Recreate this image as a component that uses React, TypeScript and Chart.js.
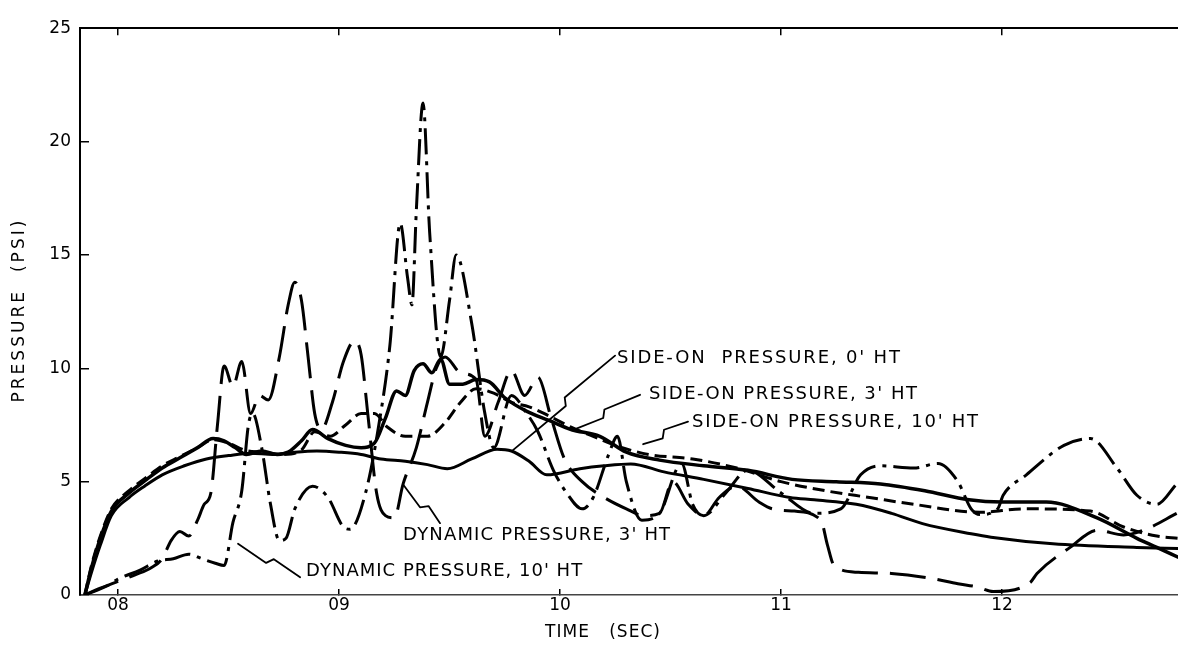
import React, { useEffect, useRef } from "react";
import { Chart, registerables } from "chart.js";

Chart.register(...registerables);

const FONT = '"DejaVu Sans", "Liberation Sans", sans-serif';

// ---------- axes ----------
const X_MIN = 0.7828;
const X_MAX = 1.2796;
const X_TICKS = [0.8, 0.9, 1.0, 1.1, 1.2];
const X_TICK_LABELS = ["08", "09", "10", "11", "12"];
const Y_TICKS = [0, 5, 10, 15, 20, 25];
const Y_TICK_LABELS = ["0", "5", "10", "15", "20", "25"];
const X_TITLE = "TIME   (SEC)";
const Y_TITLE = "PRESSURE  (PSI)";

// ---------- series (time in sec, pressure in psi) ----------
const SIDE_ON_0FT_T = [0.785, 0.788, 0.792, 0.797, 0.805, 0.812, 0.82, 0.83, 0.84, 0.85, 0.86, 0.87, 0.88, 0.89, 0.9, 0.91, 0.919, 0.93, 0.94, 0.949, 0.96, 0.9715, 0.978, 0.986, 0.994, 1.009, 1.02, 1.032, 1.047, 1.065, 1.085, 1.104, 1.115, 1.134, 1.15, 1.164, 1.186, 1.195, 1.223, 1.261, 1.28];
const SIDE_ON_0FT_P = [0, 1.0, 2.2, 3.5, 4.3, 4.8, 5.3, 5.7, 6.0, 6.15, 6.25, 6.2, 6.3, 6.35, 6.3, 6.2, 6.0, 5.9, 5.75, 5.57, 6.0, 6.43, 6.35, 5.9, 5.3, 5.57, 5.7, 5.78, 5.43, 5.1, 4.7, 4.3, 4.2, 4.0, 3.6, 3.15, 2.7, 2.55, 2.26, 2.1, 2.05];

const SIDE_ON_3FT_T = [0.785, 0.788, 0.792, 0.797, 0.805, 0.813, 0.82, 0.828, 0.836, 0.843, 0.85, 0.857, 0.865, 0.875, 0.883, 0.889, 0.896, 0.903, 0.91, 0.916, 0.922, 0.93, 0.94, 0.948, 0.955, 0.962, 0.97, 0.978, 0.986, 0.995, 1.005, 1.015, 1.025, 1.04, 1.06, 1.08, 1.1, 1.12, 1.14, 1.16, 1.19, 1.21, 1.24, 1.255, 1.27, 1.28];
const SIDE_ON_3FT_P = [0, 1.3, 2.6, 3.8, 4.6, 5.2, 5.7, 6.1, 6.5, 6.85, 6.7, 6.4, 6.3, 6.2, 6.4, 7.2, 7.0, 7.5, 8.0, 8.0, 7.4, 7.0, 7.0, 7.6, 8.5, 9.1, 8.9, 8.5, 8.3, 7.9, 7.4, 7.0, 6.6, 6.2, 6.0, 5.6, 5.0, 4.6, 4.3, 4.0, 3.65, 3.8, 3.7, 3.0, 2.6, 2.5];

const SIDE_ON_10FT_T = [0.785, 0.788, 0.792, 0.797, 0.805, 0.813, 0.82, 0.828, 0.836, 0.843, 0.848, 0.853, 0.858, 0.865, 0.872, 0.877, 0.883, 0.888, 0.895, 0.903, 0.91, 0.916, 0.921, 0.926, 0.93, 0.934, 0.938, 0.942, 0.946, 0.95, 0.956, 0.962, 0.968, 0.975, 0.985, 0.995, 1.005, 1.018, 1.03, 1.045, 1.065, 1.085, 1.105, 1.125, 1.145, 1.165, 1.185, 1.2, 1.22, 1.243, 1.261, 1.27, 1.28];
const SIDE_ON_10FT_P = [0, 1.2, 2.5, 3.7, 4.5, 5.1, 5.6, 6.05, 6.5, 6.9, 6.8, 6.5, 6.2, 6.35, 6.2, 6.3, 6.8, 7.3, 6.9, 6.6, 6.5, 6.7, 7.8, 9.0, 8.8, 9.9, 10.2, 9.8, 10.4, 9.3, 9.3, 9.5, 9.4, 8.7, 8.1, 7.7, 7.3, 7.0, 6.3, 5.95, 5.7, 5.5, 5.1, 5.0, 4.9, 4.6, 4.2, 4.1, 4.1, 3.4, 2.5, 2.1, 1.65];

const DYNAMIC_3FT_T = [0.785, 0.792, 0.8, 0.808, 0.815, 0.82, 0.824, 0.828, 0.832, 0.836, 0.839, 0.842, 0.845, 0.848, 0.852, 0.856, 0.86, 0.864, 0.868, 0.873, 0.877, 0.88, 0.883, 0.886, 0.889, 0.892, 0.897, 0.902, 0.907, 0.91, 0.913, 0.917, 0.921, 0.925, 0.929, 0.935, 0.94, 0.944, 0.948, 0.955, 0.962, 0.966, 0.972, 0.978, 0.984, 0.99, 0.996, 1.002, 1.01, 1.02, 1.03, 1.038, 1.045, 1.051, 1.058, 1.065, 1.072, 1.08, 1.09, 1.096, 1.106, 1.118, 1.121, 1.124, 1.135, 1.15, 1.167, 1.18, 1.189, 1.196, 1.2127, 1.2158, 1.2308, 1.243, 1.255, 1.265, 1.279];
const DYNAMIC_3FT_P = [0, 0.3, 0.6, 0.9, 1.2, 1.6, 2.4, 2.8, 2.6, 3.3, 4.0, 4.5, 7.5, 10.1, 9.2, 10.3, 8.0, 8.8, 8.6, 10.5, 12.8, 13.8, 13.0, 10.5, 8.0, 7.3, 8.5, 10.3, 11.2, 10.6, 8.0, 4.5, 3.5, 3.4, 4.9, 6.5, 8.5, 10.0, 10.5, 9.8, 9.5, 7.0, 8.5, 9.9, 8.8, 9.6, 7.8, 6.0, 5.0, 4.3, 3.8, 3.5, 3.6, 5.0, 4.0, 3.5, 4.3, 4.8, 4.1, 3.8, 3.7, 3.3, 2.2, 1.3, 1.0, 0.95, 0.75, 0.5, 0.35, 0.15, 0.55, 0.95, 2.1, 2.85, 2.65, 2.9, 3.6];

const DYNAMIC_10FT_T = [0.785, 0.795, 0.8, 0.81, 0.818, 0.825, 0.832, 0.838, 0.844, 0.848, 0.852, 0.856, 0.859, 0.861, 0.865, 0.869, 0.873, 0.876, 0.88, 0.888, 0.895, 0.902, 0.905, 0.912, 0.918, 0.923, 0.9277, 0.931, 0.933, 0.935, 0.938, 0.941, 0.946, 0.95, 0.953, 0.96, 0.966, 0.97, 0.978, 0.985, 0.99, 0.997, 1.003, 1.01, 1.015, 1.022, 1.026, 1.03, 1.037, 1.045, 1.055, 1.06, 1.065, 1.075, 1.085, 1.1, 1.115, 1.127, 1.136, 1.145, 1.16, 1.171, 1.18, 1.186, 1.19, 1.198, 1.2005, 1.211, 1.228, 1.24, 1.252, 1.261, 1.27, 1.279];
const DYNAMIC_10FT_P = [0, 0.4, 0.7, 1.1, 1.5, 1.6, 1.8, 1.6, 1.4, 1.3, 3.2, 4.6, 7.5, 8.0, 6.5, 4.0, 2.4, 2.5, 3.8, 4.8, 4.3, 3.0, 2.9, 4.5, 7.5, 11.0, 16.4, 14.0, 12.8, 17.0, 21.7, 16.0, 10.5, 13.0, 15.0, 12.0, 8.0, 6.5, 8.8, 8.0, 7.2, 5.5, 4.5, 3.8, 4.3, 6.2, 7.0, 5.0, 3.3, 3.6, 5.8, 4.0, 3.5, 4.5, 5.5, 4.5, 3.6, 3.8, 5.3, 5.7, 5.6, 5.8, 5.0, 3.8, 3.55, 3.8, 4.4, 5.3, 6.6, 6.9, 5.6, 4.4, 4.0, 4.9];

// ---------- annotation text ----------
const NOTE_TEXTS = [
  "SIDE-ON  PRESSURE, 0' HT",
  "SIDE-ON PRESSURE, 3' HT",
  "SIDE-ON PRESSURE, 10' HT",
  "DYNAMIC PRESSURE, 3' HT",
  "DYNAMIC PRESSURE, 10' HT",
];

// layout of the notes, in data units: [tLeft, tRight, p]
const NOTE_BOXES = [
  [1.0258, 1.1538, 10.43],
  [1.0403, 1.1615, 8.83],
  [1.0597, 1.1891, 7.61],
  [0.929, 1.0498, 2.61],
  [0.8851, 1.01, 1.04],
];
// leader lines: [tFrom, pFrom, tTo, pTo, zigFraction]
const NOTE_LEADERS = [
  [1.0249, 10.56, 0.9787, 6.39, 0.47],
  [1.0362, 8.83, 1.0054, 7.26, 0.5],
  [1.0579, 7.65, 1.0376, 6.65, 0.5],
  [0.9457, 3.17, 0.929, 4.87, 0.38],
  [0.8824, 0.78, 0.8543, 2.26, 0.45],
];
const X_TITLE_SPAN = [0.9932, 1.0452];

function spacedText(ctx: CanvasRenderingContext2D, text: string, x0: number, x1: number, cy: number) {
  const c: any = ctx;
  const hasLS = "letterSpacing" in c;
  if (hasLS) c.letterSpacing = "0px";
  const w = ctx.measureText(text).width;
  const n = text.length;
  const sp = n > 1 ? (x1 - x0 - w) / (n - 1) : 0;
  if (hasLS) c.letterSpacing = `${sp}px`;
  ctx.textAlign = "left";
  ctx.fillText(text, x0, cy);
  if (hasLS) c.letterSpacing = "0px";
}

function leader(ctx: CanvasRenderingContext2D, ax: number, ay: number, bx: number, by: number, f: number) {
  const dx = bx - ax;
  const dy = by - ay;
  const L = Math.hypot(dx, dy) || 1;
  const ux = dx / L;
  const uy = dy / L;
  const nx = -uy;
  const ny = ux;
  const mx = ax + dx * f;
  const my = ay + dy * f;
  ctx.beginPath();
  ctx.moveTo(ax, ay);
  ctx.lineTo(mx + nx * 3.5, my + ny * 3.5);
  ctx.lineTo(mx + ux * 5 - nx * 3.5, my + uy * 5 - ny * 3.5);
  ctx.lineTo(bx, by);
  ctx.stroke();
}

const notesPlugin = {
  id: "notes",
  afterDatasetsDraw(chart: any) {
    const { ctx, chartArea, scales } = chart;
    const xs = scales.x;
    const ys = scales.y;
    ctx.save();
    ctx.fillStyle = "#000";
    ctx.strokeStyle = "#000";
    ctx.lineWidth = 1.8;
    ctx.lineCap = "round";
    ctx.lineJoin = "round";
    ctx.textBaseline = "middle";
    ctx.font = `18px ${FONT}`;
    NOTE_TEXTS.forEach((text, i) => {
      const [t0, t1, p] = NOTE_BOXES[i];
      spacedText(ctx, text, xs.getPixelForValue(t0), xs.getPixelForValue(t1), ys.getPixelForValue(p));
      const [ta, pa, tb, pb, f] = NOTE_LEADERS[i];
      leader(
        ctx,
        xs.getPixelForValue(ta),
        ys.getPixelForValue(pa),
        xs.getPixelForValue(tb),
        ys.getPixelForValue(pb),
        f
      );
    });
    ctx.font = `17px ${FONT}`;
    spacedText(
      ctx,
      X_TITLE,
      xs.getPixelForValue(X_TITLE_SPAN[0]),
      xs.getPixelForValue(X_TITLE_SPAN[1]),
      chartArea.bottom + 38
    );
    ctx.translate(20, (chartArea.top + chartArea.bottom) / 2);
    ctx.rotate(-Math.PI / 2);
    spacedText(ctx, Y_TITLE, -91, 91, 0);
    ctx.restore();
  },
};

function pts(ts: number[], ps: number[]) {
  return ts.map((t, i) => ({ x: t, y: ps[i] }));
}

function labelFor(values: number[], labels: string[], v: any) {
  const idx = values.findIndex((t) => Math.abs(t - Number(v)) < 1e-6);
  return idx >= 0 ? labels[idx] : "";
}

export default function App() {
  const ref = useRef<HTMLCanvasElement | null>(null);

  useEffect(() => {
    if (!ref.current) return;
    const base = {
      borderColor: "#000",
      pointRadius: 0,
      fill: false,
      cubicInterpolationMode: "monotone" as const,
      borderJoinStyle: "round" as const,
    };
    const chart = new Chart(ref.current, {
      type: "line",
      data: {
        datasets: [
          { ...base, label: "SIDE-ON PRESSURE, 0' HT", data: pts(SIDE_ON_0FT_T, SIDE_ON_0FT_P), borderWidth: 3 },
          { ...base, label: "SIDE-ON PRESSURE, 3' HT", data: pts(SIDE_ON_3FT_T, SIDE_ON_3FT_P), borderWidth: 3, borderDash: [12, 6] },
          { ...base, label: "SIDE-ON PRESSURE, 10' HT", data: pts(SIDE_ON_10FT_T, SIDE_ON_10FT_P), borderWidth: 3.5 },
          { ...base, label: "DYNAMIC PRESSURE, 3' HT", data: pts(DYNAMIC_3FT_T, DYNAMIC_3FT_P), borderWidth: 3, borderDash: [36, 12] },
          { ...base, label: "DYNAMIC PRESSURE, 10' HT", data: pts(DYNAMIC_10FT_T, DYNAMIC_10FT_P), borderWidth: 3, borderDash: [26, 7, 4, 7] },
        ],
      },
      options: {
        animation: false,
        responsive: false,
        devicePixelRatio: 1,
        layout: { padding: { top: 20, left: 0, right: 0, bottom: 0 } },
        plugins: {
          legend: { display: false },
          tooltip: { enabled: false },
        },
        scales: {
          x: {
            type: "linear",
            position: "bottom",
            min: X_MIN,
            max: X_MAX,
            afterBuildTicks: (s: any) => {
              s.ticks = X_TICKS.map((value) => ({ value }));
            },
            afterFit: (s: any) => {
              s.height = 59;
            },
            ticks: {
              autoSkip: false,
              maxRotation: 0,
              padding: 6,
              color: "#000",
              font: { family: FONT, size: 17 },
              callback: (v: any) => labelFor(X_TICKS, X_TICK_LABELS, v),
            },
            grid: { drawOnChartArea: false, drawTicks: true, tickLength: -6, color: "#000", lineWidth: 1.5 },
            border: { display: true, color: "#444", width: 1.5 },
          },
          xTop: {
            type: "linear",
            position: "top",
            min: X_MIN,
            max: X_MAX,
            afterBuildTicks: (s: any) => {
              s.ticks = X_TICKS.map((value) => ({ value }));
            },
            afterFit: (s: any) => {
              s.height = 0;
            },
            ticks: { display: false },
            grid: { drawOnChartArea: false, drawTicks: true, tickLength: -7, color: "#000", lineWidth: 1.5 },
            border: { display: true, color: "#000", width: 2 },
          },
          y: {
            type: "linear",
            position: "left",
            min: 0,
            max: 25,
            afterBuildTicks: (s: any) => {
              s.ticks = Y_TICKS.map((value) => ({ value }));
            },
            afterFit: (s: any) => {
              s.width = 80;
            },
            ticks: {
              padding: 18,
              color: "#000",
              font: { family: FONT, size: 17 },
              callback: (v: any) => labelFor(Y_TICKS, Y_TICK_LABELS, v),
            },
            grid: { drawOnChartArea: false, drawTicks: true, tickLength: -9, color: "#000", lineWidth: 1.5 },
            border: { display: true, color: "#000", width: 2 },
          },
        },
      } as any,
      plugins: [notesPlugin],
    });
    return () => chart.destroy();
  }, []);

  return (
    <div style={{ position: "fixed", left: 0, top: 0, width: 1178, height: 654, background: "#fff" }}>
      <canvas ref={ref} width={1178} height={654} style={{ display: "block", width: 1178, height: 654 }} />
    </div>
  );
}
